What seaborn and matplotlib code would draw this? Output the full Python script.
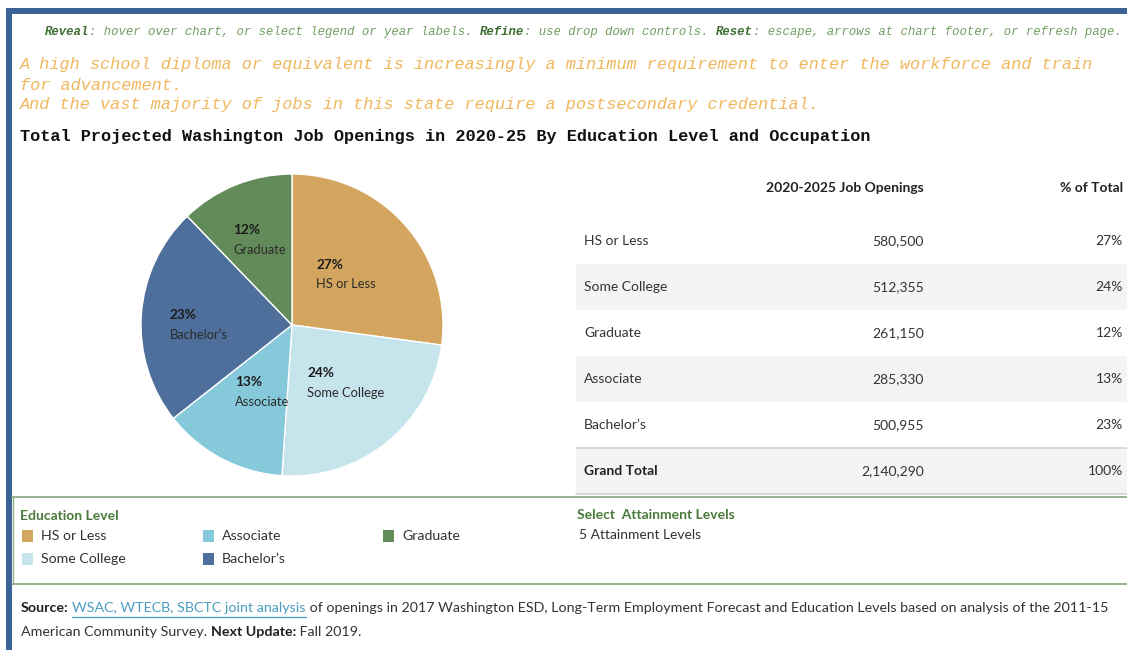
import matplotlib
matplotlib.use("Agg")
import matplotlib.pyplot as plt
from matplotlib.patches import Rectangle
from matplotlib.lines import Line2D
import seaborn as sns
import pandas as pd

# ---- data -------------------------------------------------------------
levels = ["HS or Less", "Some College", "Associate", "Bachelor\u2019s", "Graduate"]
openings = [580500, 512355, 285330, 500955, 261150]
table_order = ["HS or Less", "Some College", "Graduate", "Associate", "Bachelor\u2019s"]
level_colors = ["#d4a55f", "#c6e4ec", "#86c9da", "#4e6f9b", "#638b59"]

df = pd.DataFrame({"level": levels, "openings": openings, "color": level_colors})
total = df["openings"].sum()
df["share"] = df["openings"] / total

# ---- figure -----------------------------------------------------------
sns.set_theme(style="white")
plt.rcParams["font.family"] = ["Lato", "DejaVu Sans"]

W, H = 1127, 650
fig = plt.figure(figsize=(W / 100, H / 100), dpi=100, facecolor="white")
renderer = fig.canvas.get_renderer()


def fx(x):
    return x / W


def fy(y):
    return 1 - y / H


def put(x, y, s, **kw):
    kw.setdefault("va", "center")
    return fig.text(fx(x), fy(y), s, **kw)


def runs(x, y, parts, **common):
    """Draw consecutive text pieces on one baseline, returning their artists."""
    arts = []
    for s, props in parts:
        t = put(x, y, s, **common, **props)
        bb = t.get_window_extent(renderer)
        arts.append((t, x, x + bb.width))
        x += bb.width
    return arts


def hline(x0, x1, y, color, lw=1.0):
    fig.add_artist(Line2D([fx(x0), fx(x1)], [fy(y), fy(y)], color=color, lw=lw,
                          transform=fig.transFigure))


def vline(x, y0, y1, color, lw=1.0):
    fig.add_artist(Line2D([fx(x), fx(x)], [fy(y0), fy(y1)], color=color, lw=lw,
                          transform=fig.transFigure))


def rect(x0, y0, w, h, color):
    fig.add_artist(Rectangle((fx(x0), fy(y0 + h)), w / W, h / H, facecolor=color,
                             edgecolor="none", transform=fig.transFigure))


# dashboard frame
BLUE = "#3b6395"
rect(6, 8, W - 6, 6, BLUE)
rect(6, 8, 6, H - 8, BLUE)

# ---- instructions and headline ------------------------------------------
mono = dict(family="Liberation Mono")
g_light, g_dark = "#6f9e62", "#3f6e33"
runs(45, 32, [
    ("Reveal", dict(color=g_dark, weight="bold")),
    (": hover over chart, or select legend or year labels. ", dict(color=g_light)),
    ("Refine", dict(color=g_dark, weight="bold")),
    (": use drop down controls. ", dict(color=g_light)),
    ("Reset", dict(color=g_dark, weight="bold")),
    (": escape, arrows at chart footer, or refresh page.", dict(color=g_light)),
], fontsize=8.8, style="italic", **mono)

orange = "#f0b75c"
for yy, line in [(65, "A high school diploma or equivalent is increasingly a minimum requirement to enter the workforce and train"),
                 (85, "for advancement."),
                 (105, "And the vast majority of jobs in this state require a postsecondary credential.")]:
    put(20, yy, line, color=orange, fontsize=12.2, style="italic", **mono)

put(20, 136, "Total Projected Washington Job Openings in 2020-25 By Education Level and Occupation",
    color="#111111", fontsize=12.2, weight="bold", **mono)

# ---- pie --------------------------------------------------------------
cx, cy, r = 292, 325, 151
ax = fig.add_axes([fx(cx - r), fy(cy + r), 2 * r / W, 2 * r / H])
ax.pie(df["openings"], colors=df["color"], startangle=90, counterclock=False,
       radius=1, wedgeprops=dict(edgecolor="white", linewidth=1.0))
ax.set_xlim(-1, 1)
ax.set_ylim(-1, 1)
ax.set_aspect("equal")
ax.axis("off")

label_spots = {
    "HS or Less": (0.16, 0.40),
    "Some College": (0.10, -0.32),
    "Associate": (-0.38, -0.38),
    "Bachelor\u2019s": (-0.81, 0.066),
    "Graduate": (-0.39, 0.63),
}
for _, row in df.iterrows():
    lx, ly = label_spots[row["level"]]
    ax.text(lx, ly, f"{row['share']:.0%}", fontsize=9.8, weight="bold",
            color="#1a1a1a", ha="left", va="center")
    ax.text(lx, ly - 0.13, row["level"], fontsize=9.3, color="#2a2a2a",
            ha="left", va="center")

# ---- table ------------------------------------------------------------
tcol = "#333333"
FS = 10
put(924, 188, "2020-2025 Job Openings", ha="right", fontsize=FS, weight="bold", color="#222222")
put(1123, 188, "% of Total", ha="right", fontsize=FS, weight="bold", color="#222222")

row_top, row_h = 218, 46
tdf = df.set_index("level").loc[table_order].reset_index()
for i, row in tdf.iterrows():
    y0 = row_top + i * row_h
    if i % 2 == 1:
        rect(576, y0, W - 576, row_h, "#f4f4f4")
    yc = y0 + row_h / 2
    put(584, yc, row["level"], fontsize=FS, color=tcol)
    put(924, yc, f"{row['openings']:,}", ha="right", fontsize=FS, color=tcol)
    put(1123, yc, f"{row['share']:.0%}", ha="right", fontsize=FS, color=tcol)

gt_top = row_top + len(tdf) * row_h
rect(576, gt_top, W - 576, row_h, "#f4f4f4")
hline(576, W, gt_top, "#d2d2d2", 1.2)
hline(576, W, gt_top + row_h, "#d2d2d2", 1.2)
yc = gt_top + row_h / 2
put(584, yc, "Grand Total", fontsize=FS, weight="bold", color="#222222")
put(924, yc, f"{total:,}", ha="right", fontsize=FS, color=tcol)
put(1123, yc, f"{df['share'].sum():.0%}", ha="right", fontsize=FS, color=tcol)

# ---- legend panel -----------------------------------------------------
GREEN_LINE = "#8fac86"
hline(12, W, 497, GREEN_LINE, 1.3)
hline(12, W, 584, GREEN_LINE, 1.3)
vline(12.5, 497, 584, GREEN_LINE, 1.0)

lg = "#4a7a3c"
put(20, 516, "Education Level", fontsize=FS, weight="bold", color=lg)
legend_slots = {
    "HS or Less": (22, 536),
    "Some College": (22, 559),
    "Associate": (203, 536),
    "Bachelor\u2019s": (203, 559),
    "Graduate": (383, 536),
}
for _, row in df.iterrows():
    sx, sy = legend_slots[row["level"]]
    rect(sx, sy - 6, 11, 12, row["color"])
    put(sx + 19, sy, row["level"], fontsize=10.2, color=tcol)

put(577, 515, "Select  Attainment Levels", fontsize=FS, weight="bold", color=lg)
put(579, 535, f"{len(df)} Attainment Levels", fontsize=FS, color=tcol)

# ---- source note ------------------------------------------------------
link = "#4c9cc1"
parts = runs(21, 608, [
    ("Source:", dict(weight="bold", color="#222222")),
    (" ", dict(color=tcol)),
    ("WSAC, WTECB, SBCTC joint analysis", dict(color=link)),
    (" of openings in 2017 Washington ESD, Long-Term Employment Forecast and Education Levels based on analysis of the 2011-15",
     dict(color=tcol)),
], fontsize=10.3)
_, lx0, lx1 = parts[2]
hline(lx0, lx1, 617, link, 0.9)
runs(21, 632, [
    ("American Community Survey. ", dict(color=tcol)),
    ("Next Update:", dict(weight="bold", color="#222222")),
    (" Fall 2019.", dict(color=tcol)),
], fontsize=10.3)

fig.savefig("out.png", dpi=100, facecolor="white")
